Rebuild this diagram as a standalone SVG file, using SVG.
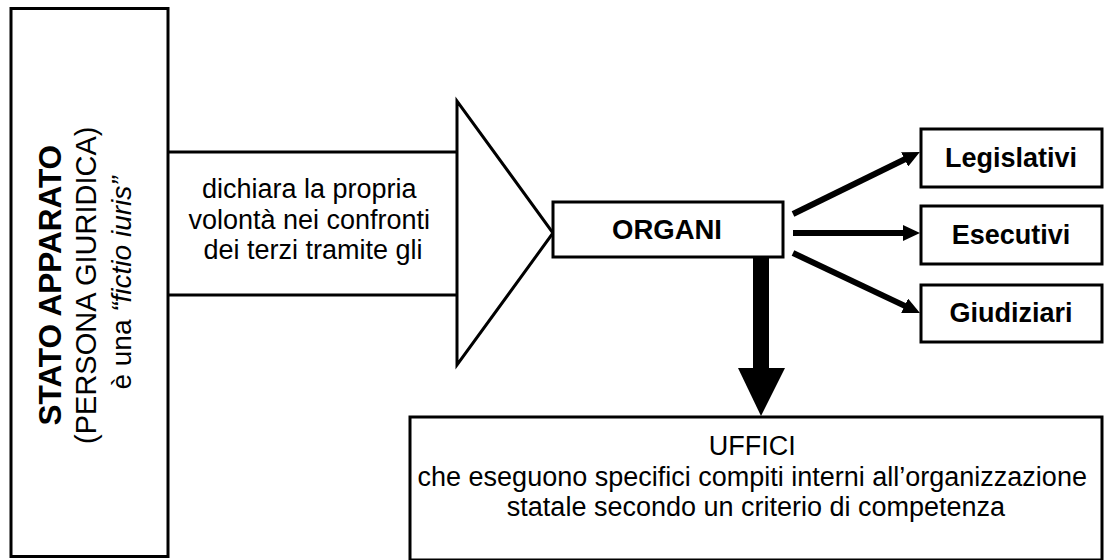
<svg xmlns="http://www.w3.org/2000/svg" width="1105" height="560" viewBox="0 0 1105 560">
<style>
.box{fill:#fff;stroke:#000;stroke-width:3}
.ln{fill:none;stroke:#000;stroke-width:3}
.t{font-family:"Liberation Sans",Arial,sans-serif;fill:#000}
.b{font-weight:bold}
.arr{stroke:#000;stroke-width:6;fill:none;marker-end:url(#ah)}
</style>
<defs>
<marker id="ah" markerUnits="userSpaceOnUse" viewBox="0 0 17 16" markerWidth="17" markerHeight="16" refX="2" refY="8" orient="auto">
<path d="M0,0 L17,8 L0,16 z" fill="#000"/>
</marker>
</defs>
<rect width="1105" height="560" fill="#fff"/>
<g id="stato">
<rect class="box" x="11" y="8.5" width="157" height="548"/>
<text class="t" transform="translate(0,283) rotate(-90)" text-anchor="middle">
<tspan class="b" x="0" y="61" font-size="31.5">STATO APPARATO</tspan>
<tspan x="0" y="96" font-size="29">(PERSONA GIURIDICA)</tspan>
<tspan x="0" y="131" font-size="28">è una <tspan font-style="italic">“fictio iuris”</tspan></tspan>
</text>
</g>
<g id="dichiara">
<path class="ln" d="M168,152 H457 M168,295 H457"/>
<polygon class="ln" points="457,101 457,365 553,233"/>
<text class="t" font-size="27" text-anchor="middle">
<tspan x="313" y="198">dichiara la propria</tspan>
<tspan x="313" y="229">volontà nei confronti</tspan>
<tspan x="313" y="259">dei terzi tramite gli</tspan>
</text>
</g>
<g id="organi">
<rect class="box" x="553" y="202" width="230" height="55"/>
<text class="t b" x="667" y="239" font-size="27.5" text-anchor="middle">ORGANI</text>
</g>
<g id="legislativi">
<rect class="box" x="921" y="129" width="181" height="58"/>
<text class="t b" x="1011" y="167" font-size="27" text-anchor="middle">Legislativi</text>
</g>
<g id="esecutivi">
<rect class="box" x="921" y="206" width="181" height="58"/>
<text class="t b" x="1011" y="244" font-size="27" text-anchor="middle">Esecutivi</text>
</g>
<g id="giudiziari">
<rect class="box" x="921" y="285" width="181" height="57"/>
<text class="t b" x="1011" y="322" font-size="27" text-anchor="middle">Giudiziari</text>
</g>
<g id="uffici">
<rect class="box" x="410" y="417" width="692" height="143"/>
<text class="t" font-size="27" text-anchor="middle">
<tspan x="756" y="455">UFFICI</tspan>
<tspan x="756" y="486">che eseguono specifici compiti interni all’organizzazione</tspan>
<tspan x="756" y="516">statale secondo un criterio di competenza</tspan>
</text>
</g>
<g id="connectors">
<line class="arr" x1="793" y1="214" x2="906.4" y2="158.5"/>
<line class="arr" x1="793" y1="233" x2="905" y2="233"/>
<line class="arr" x1="793" y1="253" x2="906.4" y2="306.6"/>
<rect x="753" y="257" width="16" height="112" fill="#000"/>
<polygon points="738,368 785,368 761,416" fill="#000"/>
</g>
</svg>
